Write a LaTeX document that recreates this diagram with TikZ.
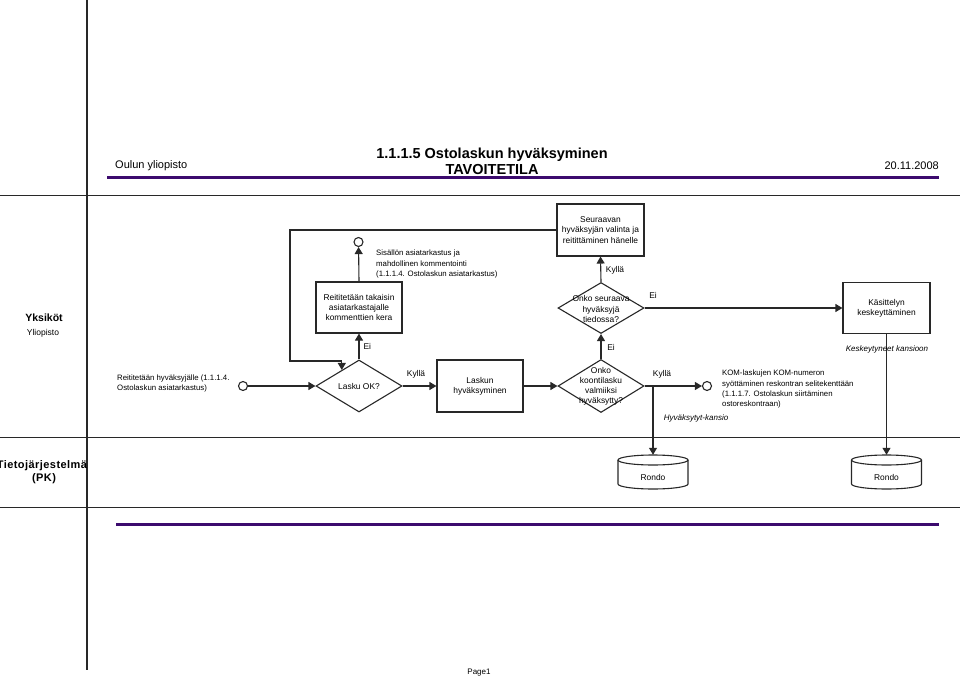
\documentclass[tikz,border=0pt]{standalone}
\usepackage{fontspec}
\setmainfont{Liberation Sans}
\usetikzlibrary{arrows.meta,shapes.geometric,calc}
\definecolor{ln}{RGB}{40,40,40}
\definecolor{purp}{RGB}{60,10,110}
\tikzset{
  conn/.style={draw=ln, line width=1.1pt},
  arr/.style={conn, -{Triangle[width=8pt,length=7pt]}},
  lane/.style={draw=ln, line width=1pt},
  box/.style={draw=ln, line width=1.1pt, rectangle, inner sep=0pt},
  dia/.style={draw=ln, line width=1.1pt, diamond, inner sep=0pt, minimum width=86pt, minimum height=52pt},
  ev/.style={draw=ln, line width=1.1pt, circle, inner sep=0pt, minimum size=9pt, fill=white},
  txt/.style={font=\fontsize{8.4}{10.2}\selectfont, inner sep=0pt, align=center},
  ltxt/.style={font=\fontsize{7.8}{10.3}\selectfont, inner sep=0pt, align=left},
  itxt/.style={font=\fontsize{8}{10.3}\selectfont\itshape, inner sep=0pt},
  bar/.style={draw=purp, line width=3pt},
}
\begin{document}
\begin{tikzpicture}[x=1pt,y=-1pt]
\useasboundingbox (0,0) rectangle (960,679);
% lanes
\draw[lane, line width=1.4pt] (87,0) -- (87,670);
\draw[lane] (0,195) -- (960,195);
\draw[lane] (0,437) -- (960,437);
\draw[lane] (0,507) -- (960,507);
% header
\draw[bar] (107,178) -- (939,178);
\draw[bar] (116,524) -- (939,524);
\node[font=\fontsize{11}{13}\selectfont, anchor=west, inner sep=0pt] (org) at (115,166) {Oulun yliopisto};
\node[font=\fontsize{14.5}{16}\selectfont\bfseries, inner sep=0pt] (title) at (492,155) {1.1.1.5 Ostolaskun hyväksyminen};
\node[font=\fontsize{14.5}{16}\selectfont\bfseries, inner sep=0pt] (title2) at (492,170) {TAVOITETILA};
\node[font=\fontsize{11}{13}\selectfont, anchor=east, inner sep=0pt] (date) at (939,166) {20.11.2008};
% lane labels
\node[font=\fontsize{10.5}{12}\selectfont\bfseries, inner sep=0pt] (l1) at (44,318) {Yksiköt};
\node[font=\fontsize{8.5}{10}\selectfont, inner sep=0pt] (l1b) at (43,333) {Yliopisto};
\begin{scope}
\clip (0,440) rectangle (86.3,505);
\node[font=\fontsize{11}{13}\selectfont\bfseries\addfontfeature{LetterSpace=4}, inner sep=0pt, align=center] (l2) at (44,472) {Tietojärjestelmät\\(PK)};
\end{scope}
\node[font=\fontsize{8}{10}\selectfont, inner sep=0pt] (page) at (479,673) {Page1};

% nodes
\node[box, minimum width=87pt, minimum height=52pt] (seur) at (600.5,230) {};
\node[txt] at (seur) {Seuraavan\\hyväksyjän valinta ja\\reitittäminen hänelle};
\node[box, minimum width=86pt, minimum height=51pt] (reit) at (359,307.5) {};
\node[txt] at (reit) {Reititetään takaisin\\asiatarkastajalle\\kommenttien kera};
\node[dia] (lok) at (359,386) {};
\node[txt] at (lok) {Lasku OK?};
\node[box, minimum width=86pt, minimum height=52pt] (lhyv) at (480,386) {};
\node[txt] at (lhyv) {Laskun\\hyväksyminen};
\node[dia, minimum height=51pt] (seuq) at (601,308) {};
\node[txt] at (601,309) {Onko seuraava\\hyväksyjä\\tiedossa?};
\node[dia, minimum height=53pt] (koon) at (601,386) {};
\node[txt] at (601,386.5) {Onko\\koontilasku\\valmiiksi\\hyväksytty?};
\node[box, minimum width=87pt, minimum height=51pt] (kas) at (886.5,308) {};
\node[txt] at (kas) {Käsittelyn\\keskeyttäminen};

% events
\node[ev] (ev1) at (243,386) {};
\node[ev] (ev2) at (358.5,242) {};
\node[ev] (ev3) at (707,386) {};
\node[ltxt, anchor=west] (t1) at (117,383.5) {Reititetään hyväksyjälle (1.1.1.4.\\Ostolaskun asiatarkastus)};
\node[ltxt, anchor=north west] (t2) at (376,250) {Sisällön asiatarkastus ja\\mahdollinen kommentointi\\(1.1.1.4. Ostolaskun asiatarkastus)};
\node[ltxt, anchor=north west] (t3) at (722,370) {KOM-laskujen KOM-numeron\\syöttäminen reskontran selitekenttään\\(1.1.1.7. Ostolaskun siirtäminen\\ostoreskontraan)};

% data stores
\foreach \n/\cx in {r1/653, r2/886.5}{
  \node[inner sep=0pt, minimum width=70pt, minimum height=34pt] (\n) at (\cx,472) {};
  \draw[conn, fill=white] (\cx-35,460) -- (\cx-35,484) arc[start angle=180, end angle=0, x radius=35, y radius=5] -- (\cx+35,460);
  \draw[conn] (\cx,460) ellipse[x radius=35, y radius=5];
  \node[txt] at (\cx,477.5) {Rondo};
}

% connectors
\coordinate (lokNW) at ($(lok.north)!0.395!(lok.west)$);
\draw[arr] (seur.west) -| (290,361) -| (lokNW);
\draw[arr] (ev1) -- (lok.west);
\draw[arr] (lok.north) -- node[txt, right=4pt, pos=0.5] {Ei} (reit.south);
\draw[arr] (reit.north) -- (ev2);
\draw[arr] (lok.east) -- (lhyv.west);
\node[txt] at (416,374) {Kyllä};
\draw[arr] (lhyv.east) -- (koon.west);
\draw[arr] (koon.north) -- (seuq.south);
\node[txt] at (611,347) {Ei};
\draw[arr] (seuq.north) -- (seur.south);
\node[txt] at (615,270) {Kyllä};
\draw[arr] (seuq.east) -- (kas.west);
\node[txt] at (653,295) {Ei};
\draw[arr] (koon.east) -- (ev3);
\node[txt] at (662,374) {Kyllä};
\draw[arr] (653,386) -- (r1.north);
\node[itxt] at (696,418) {Hyväksytyt-kansio};
\draw[arr] (kas.south) -- (r2.north);
\node[itxt] at (887,349) {Keskeytyneet kansioon};
\end{tikzpicture}
\end{document}
